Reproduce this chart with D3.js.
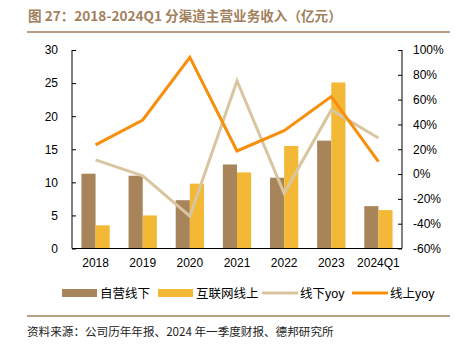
<!DOCTYPE html>
<html>
<head>
<meta charset="utf-8">
<script src="https://cdn.jsdelivr.net/npm/d3@7"></script>
<style>
  body { margin: 0; background: #fff; }
  svg { font-family: "Liberation Sans", Arial, "Noto Sans CJK SC", sans-serif; }
</style>
</head>
<body>
<div id="chart"></div>
<script>
/* Data */
const categories = ['2018', '2019', '2020', '2021', '2022', '2023', '2024Q1'];
const offlineRevenue = [11.3, 11.0, 7.3, 12.7, 10.7, 16.3, 6.4];
const onlineRevenue = [3.5, 5.0, 9.8, 11.5, 15.5, 25.1, 5.8];
const offlineYoy = [11.4, -1.5, -34, 75, -15.5, 51.7, 29];
const onlineYoy = [23.5, 43.6, 94, 18.6, 35, 62.4, 10];
const leftTicks = [0, 5, 10, 15, 20, 25, 30];
const rightTicks = [-60, -40, -20, 0, 20, 40, 60, 80, 100];
const seriesNames = ['自营线下', '互联网线上', '线下yoy', '线上yoy'];

const COLORS = {
  offline: '#a8845a',
  online: '#f3b835',
  offlineYoy: '#d9c6a0',
  onlineYoy: '#f78f0c',
  title: '#a27f5d'
};

const width = 455;
const height = 350;
const plot = { left: 72, right: 402, top: 50, bottom: 248.5 };

const svg = d3.select('#chart')
  .append('svg')
  .attr('width', width)
  .attr('height', height);

// Title + rule
svg.append('text')
  .attr('x', 28)
  .attr('y', 21)
  .attr('fill', COLORS.title)
  .style('font-size', '13.6px')
  .style('font-weight', 'bold')
  .style('font-family', '"Noto Sans CJK SC", sans-serif')
  .text('图 27：2018-2024Q1 分渠道主营业务收入（亿元）');

svg.append('line')
  .attr('x1', 27).attr('x2', 450)
  .attr('y1', 32).attr('y2', 32)
  .attr('stroke', COLORS.title)
  .attr('stroke-width', 1.5);

// Scales
const x = d3.scaleBand()
  .domain(categories)
  .range([plot.left, plot.right])
  .paddingInner(0.4)
  .paddingOuter(0.2);

const xCenter = d3.scaleBand()
  .domain(categories)
  .range([plot.left, plot.right]);

const xSub = d3.scaleBand()
  .domain(['offline', 'online'])
  .range([0, x.bandwidth()]);

const yLeft = d3.scaleLinear().domain([0, 30]).range([plot.bottom, plot.top]);
const yRight = d3.scaleLinear().domain([-60, 100]).range([plot.bottom, plot.top]);

// Bars
const barGroups = svg.append('g')
  .selectAll('g')
  .data(categories)
  .join('g')
  .attr('transform', d => `translate(${x(d)},0)`);

barGroups.append('rect')
  .attr('x', xSub('offline'))
  .attr('width', xSub.bandwidth())
  .attr('y', (d, i) => yLeft(offlineRevenue[i]))
  .attr('height', (d, i) => yLeft(0) - yLeft(offlineRevenue[i]))
  .attr('fill', COLORS.offline);

barGroups.append('rect')
  .attr('x', xSub('online'))
  .attr('width', xSub.bandwidth())
  .attr('y', (d, i) => yLeft(onlineRevenue[i]))
  .attr('height', (d, i) => yLeft(0) - yLeft(onlineRevenue[i]))
  .attr('fill', COLORS.online);

// Lines
const line = d3.line()
  .x((d, i) => xCenter(categories[i]) + xCenter.bandwidth() / 2)
  .y(d => yRight(d));

svg.append('path')
  .datum(offlineYoy)
  .attr('fill', 'none')
  .attr('stroke', COLORS.offlineYoy)
  .attr('stroke-width', 3)
  .attr('d', line);

svg.append('path')
  .datum(onlineYoy)
  .attr('fill', 'none')
  .attr('stroke', COLORS.onlineYoy)
  .attr('stroke-width', 3)
  .attr('d', line);

// Axes
const axisFont = g => g.selectAll('text')
  .style('font-size', '12px')
  .style('font-family', '"Liberation Sans", Arial, sans-serif')
  .attr('fill', '#000');

svg.append('g')
  .attr('transform', `translate(${plot.left},0)`)
  .call(d3.axisLeft(yLeft).tickValues(leftTicks).tickSize(-4).tickPadding(14))
  .call(axisFont)
  .call(g => g.select('.domain').attr('d', `M0,${plot.top}V${plot.bottom}`));

svg.append('g')
  .attr('transform', `translate(${plot.right},0)`)
  .call(d3.axisRight(yRight).tickValues(rightTicks).tickFormat(d => d + '%').tickSize(-4).tickPadding(11))
  .call(axisFont)
  .call(g => g.select('.domain').attr('d', `M0,${plot.top}V${plot.bottom}`));

svg.append('g')
  .attr('transform', `translate(0,${plot.bottom})`)
  .call(d3.axisBottom(xCenter).tickSize(0).tickPadding(10))
  .call(axisFont)
  .call(g => g.select('.domain').attr('d', `M${plot.left},0H${plot.right}`));

// Legend
const legendItems = [
  { name: seriesNames[0], color: COLORS.offline, type: 'rect', x: 62 },
  { name: seriesNames[1], color: COLORS.online, type: 'rect', x: 158 },
  { name: seriesNames[2], color: COLORS.offlineYoy, type: 'line', x: 262 },
  { name: seriesNames[3], color: COLORS.onlineYoy, type: 'line', x: 352 }
];

const legend = svg.append('g').attr('transform', 'translate(0,293)');
legendItems.forEach(item => {
  if (item.type === 'rect') {
    legend.append('rect')
      .attr('x', item.x).attr('y', -4)
      .attr('width', 35).attr('height', 8)
      .attr('fill', item.color);
  } else {
    legend.append('line')
      .attr('x1', item.x).attr('x2', item.x + 36)
      .attr('y1', 0).attr('y2', 0)
      .attr('stroke', item.color)
      .attr('stroke-width', 3);
  }
  legend.append('text')
    .attr('x', item.x + 38)
    .attr('y', 4.5)
    .style('font-size', '12.5px')
    .style('font-family', '"Liberation Sans", Arial, "Noto Sans CJK SC", sans-serif')
    .text(item.name);
});

// Source
svg.append('line')
  .attr('x1', 27).attr('x2', 450)
  .attr('y1', 316).attr('y2', 316)
  .attr('stroke', COLORS.title)
  .attr('stroke-width', 1.5);

svg.append('text')
  .attr('x', 27)
  .attr('y', 336)
  .style('font-size', '11.6px')
  .style('font-family', '"Noto Sans CJK SC", sans-serif')
  .attr('fill', '#222')
  .text('资料来源：公司历年年报、2024 年一季度财报、德邦研究所');
</script>
</body>
</html>
